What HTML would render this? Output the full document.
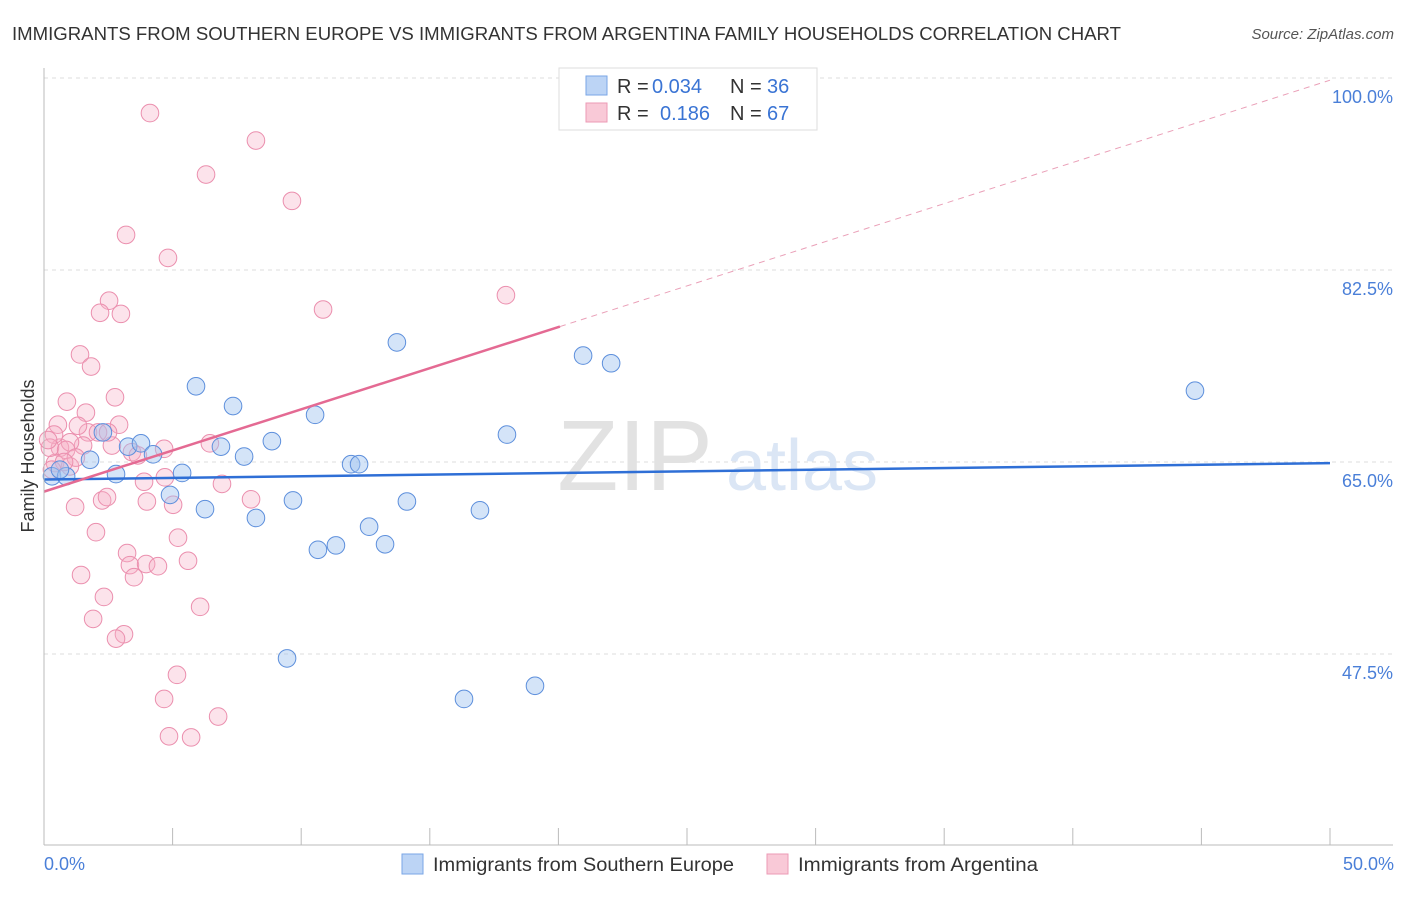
<!DOCTYPE html>
<html><head><meta charset="utf-8">
<style>
body{margin:0;background:#fff;font-family:"Liberation Sans",sans-serif;}
svg text{font-family:"Liberation Sans",sans-serif;}
</style></head>
<body>
<svg id="chart" width="1406" height="892" xmlns="http://www.w3.org/2000/svg">
<text x="12" y="40" font-size="18" fill="#333" textLength="1109" lengthAdjust="spacingAndGlyphs">IMMIGRANTS FROM SOUTHERN EUROPE VS IMMIGRANTS FROM ARGENTINA FAMILY HOUSEHOLDS CORRELATION CHART</text>
<text x="1394" y="39" font-size="15" fill="#555" font-style="italic" text-anchor="end">Source: ZipAtlas.com</text>
<g id="grid"></g>
<text x="635" y="490" font-size="100" fill="#e2e2e2" font-family="Liberation Serif" text-anchor="middle">ZIP</text>
<text x="802" y="490" font-size="72" fill="#dbe6f5" text-anchor="middle">atlas</text>
<g id="points"></g>
<g id="trends"></g>
<g id="axes"></g>
<text transform="translate(34,456) rotate(-90)" font-size="18" fill="#333" text-anchor="middle">Family Households</text>
<text x="44" y="870" font-size="18" fill="#4a7fd8">0.0%</text>
<text x="1394" y="870" font-size="18" fill="#4a7fd8" text-anchor="end">50.0%</text>
<g>
<rect x="559" y="68" width="258" height="62" fill="#fff" stroke="#ddd"/>
<rect x="586" y="76" width="21" height="19" fill="#bcd4f5" stroke="#7aa6e6"/>
<text x="617" y="93" font-size="20" fill="#333">R =</text>
<text x="652" y="93" font-size="20" fill="#3a74d4">0.034</text>
<text x="730" y="93" font-size="20" fill="#333">N =</text>
<text x="767" y="93" font-size="20" fill="#3a74d4">36</text>
<rect x="586" y="103" width="21" height="19" fill="#f9c9d7" stroke="#ec9ab5"/>
<text x="617" y="120" font-size="20" fill="#333">R =</text>
<text x="660" y="120" font-size="20" fill="#3a74d4">0.186</text>
<text x="730" y="120" font-size="20" fill="#333">N =</text>
<text x="767" y="120" font-size="20" fill="#3a74d4">67</text>
</g>
<g>
<rect x="402" y="854" width="21" height="20" fill="#bcd4f5" stroke="#7aa6e6"/>
<text x="433" y="871" font-size="19" fill="#333" textLength="301" lengthAdjust="spacingAndGlyphs">Immigrants from Southern Europe</text>
<rect x="767" y="854" width="21" height="20" fill="#f9c9d7" stroke="#ec9ab5"/>
<text x="798" y="871" font-size="19" fill="#333" textLength="240" lengthAdjust="spacingAndGlyphs">Immigrants from Argentina</text>
</g>
</svg>
<script>
const yTicks=[47.5,65,82.5,100];
const blueX=[0.31,0.86,1.79,2.29,3.27,3.77,4.24,2.80,4.90,5.37,5.91,6.26,6.88,7.35,7.78,8.24,8.86,9.68,10.54,10.65,11.35,11.94,12.25,12.64,13.26,13.72,14.11,16.33,16.95,18.0,19.09,20.96,22.05,44.75,9.45,0.62];
const blueY=[63.7,63.7,65.2,67.7,66.4,66.7,65.7,63.9,62.0,64.0,71.9,60.7,66.4,70.1,65.5,59.9,66.9,61.5,69.3,57.0,57.4,64.8,64.8,59.1,57.5,75.9,61.4,43.4,60.6,67.5,44.6,74.7,74.0,71.5,47.1,64.3];
const pinkX=[4.12,8.24,6.30,9.64,3.19,4.82,2.53,2.18,2.99,10.85,17.96,1.40,1.83,2.76,0.89,0.54,1.63,2.92,1.71,2.10,1.52,0.62,1.01,0.39,0.43,1.01,2.64,3.42,3.65,4.67,6.45,3.89,4.70,6.92,2.26,2.45,1.21,5.02,4.00,8.05,2.02,5.21,3.23,5.60,1.44,3.34,3.50,3.97,4.43,2.33,6.07,1.91,3.11,2.80,5.17,4.67,6.77,4.86,5.72,0.23,0.16,0.86,1.24,0.78,0.31,2.49,1.32];
const pinkY=[96.8,94.3,91.2,88.8,85.7,83.6,79.7,78.6,78.5,78.9,80.2,74.8,73.7,70.9,70.5,68.4,69.5,68.4,67.7,67.7,66.5,66.3,66.8,67.5,64.9,64.6,66.5,65.9,65.6,66.2,66.7,63.2,63.6,63.0,61.5,61.8,60.9,61.1,61.4,61.6,58.6,58.1,56.7,56.0,54.7,55.6,54.5,55.7,55.5,52.7,51.8,50.7,49.3,48.9,45.6,43.4,41.8,40.0,39.9,66.3,67.0,66.1,65.4,65.0,64.3,67.7,68.3];
const blueTrend=[63.4,64.9];
const pinkTrend=[62.3,99.8];
const NS="http://www.w3.org/2000/svg";
const sx=v=>44+v/50*1286;
const sy=v=>462-(v-65)/17.5*192;
function mk(tag,attrs,parent){const e=document.createElementNS(NS,tag);for(const k in attrs)e.setAttribute(k,attrs[k]);parent.appendChild(e);return e;}
const grid=document.getElementById('grid');
yTicks.forEach(t=>{
 const l=mk('line',{x1:44,x2:1393,y1:sy(t),y2:sy(t),stroke:'#ddd','stroke-dasharray':'4,4'},grid);
 
 
 const tx=mk('text',{x:1393,y:sy(t)+25,'font-size':18,fill:'#4a7fd8','text-anchor':'end'},grid);
 tx.textContent=t.toFixed(1)+'%';
 
 
});
const axes=document.getElementById('axes');
mk('line',{x1:44,x2:44,y1:68,y2:845,stroke:'#bbb'},axes);
mk('line',{x1:44,x2:1393,y1:845,y2:845,stroke:'#bbb'},axes);
for(let i=0;i<=10;i++){const t=mk('line',{x1:sx(i*5),x2:sx(i*5),y1:828,y2:845,stroke:'#bbb'},axes);
 
 }
const pts=document.getElementById('points');
pinkX.forEach((x,i)=>{const c=mk('circle',{cx:sx(x),cy:sy(pinkY[i]),r:8.8,fill:'rgba(246,176,199,0.35)',stroke:'#eb8fae','stroke-width':1},pts);
 
 });
blueX.forEach((x,i)=>{const c=mk('circle',{cx:sx(x),cy:sy(blueY[i]),r:8.8,fill:'rgba(160,196,240,0.45)',stroke:'#5d8fdc','stroke-width':1},pts);
 
 });
const tr=document.getElementById('trends');
const pAt=x=>pinkTrend[0]+(pinkTrend[1]-pinkTrend[0])*x/50;
let b=mk('line',{x1:sx(0),y1:sy(blueTrend[0]),x2:sx(50),y2:sy(blueTrend[1]),stroke:'#2f6fd6','stroke-width':2.5},tr);


let p=mk('line',{x1:sx(0),y1:sy(pAt(0)),x2:sx(20.06),y2:sy(pAt(20.06)),stroke:'#e46a93','stroke-width':2.5},tr);


let pd=mk('line',{x1:sx(20.06),y1:sy(pAt(20.06)),x2:sx(50),y2:sy(pAt(50)),stroke:'#eaa0b8','stroke-width':1,'stroke-dasharray':'6,5'},tr);


</script>
</body></html>
